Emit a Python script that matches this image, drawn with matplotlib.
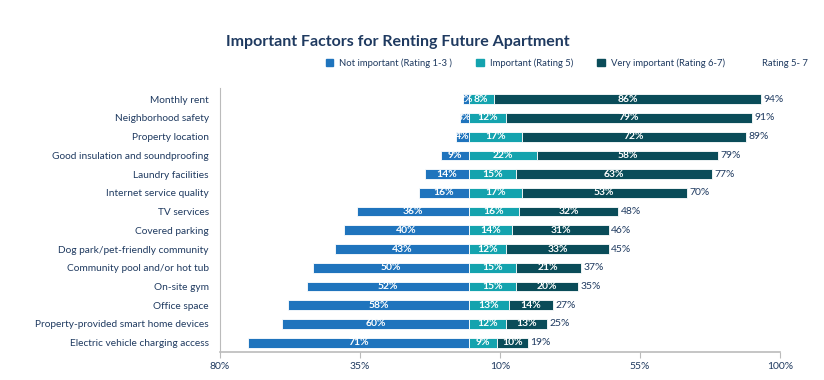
import numpy as np
import matplotlib.pyplot as plt
from matplotlib.patches import Patch

# data
factors = ["Monthly rent", "Neighborhood safety", "Property location",
           "Good insulation and soundproofing", "Laundry facilities",
           "Internet service quality", "TV services", "Covered parking",
           "Dog park/pet-friendly community", "Community pool and/or hot tub",
           "On-site gym", "Office space", "Property-provided smart home devices",
           "Electric vehicle charging access"]
not_imp = [2, 3, 4, 9, 14, 16, 36, 40, 43, 50, 52, 58, 60, 71]
imp = [8, 12, 17, 22, 15, 17, 16, 14, 12, 15, 15, 13, 12, 9]
very_imp = [86, 79, 72, 58, 63, 53, 32, 31, 33, 21, 20, 14, 13, 10]
rating_57 = [94, 91, 89, 79, 77, 70, 48, 46, 45, 37, 35, 27, 25, 19]
xticks = [-80, -35, 10, 55, 100]

c_not = "#1f74bd"
c_imp = "#14a3ae"
c_very = "#0a4c59"
navy = "#1f3a60"

plt.rcParams['font.family'] = ['Lato', 'DejaVu Sans']

fig = plt.figure(figsize=(8.24, 3.8), dpi=100)
ax = fig.add_axes([220/824, 28/380, 560/824, 264/380])

y = np.arange(len(factors))
ni = np.array(not_imp)
im = np.array(imp)
vi = np.array(very_imp)
h = 0.52

ax.barh(y, -ni, height=h, color=c_not, edgecolor="white", linewidth=0.6)
ax.barh(y, im, height=h, color=c_imp, edgecolor="white", linewidth=0.6)
ax.barh(y, vi, left=im, height=h, color=c_very, edgecolor="white", linewidth=0.6)

for i in range(len(factors)):
    ax.text(-ni[i] / 2, y[i], f"{ni[i]}%", ha="center", va="center",
            color="white", fontsize=7.5, fontweight="bold")
    ax.text(im[i] / 2, y[i], f"{im[i]}%", ha="center", va="center",
            color="white", fontsize=7.5, fontweight="bold")
    ax.text(im[i] + vi[i] / 2, y[i], f"{vi[i]}%", ha="center", va="center",
            color="white", fontsize=7.5, fontweight="bold")
    ax.text(im[i] + vi[i] + 0.8, y[i], f"{rating_57[i]}%", ha="left", va="center",
            color=navy, fontsize=7.5)

ax.set_xlim(-80, 100)
ax.set_ylim(13.5, -0.6)
ax.set_yticks(y)
ax.set_yticklabels(factors, fontsize=7.3, color=navy)
ax.set_xticks(xticks)
ax.set_xticklabels([f"{abs(t)}%" for t in xticks], fontsize=7.5, color=navy)
ax.tick_params(axis="y", length=0, pad=8)
ax.tick_params(axis="x", length=4, color="#bbbbbb", pad=3)
for s in ["top", "right"]:
    ax.spines[s].set_visible(False)
ax.spines["left"].set_color("#bbbbbb")
ax.spines["bottom"].set_color("#bbbbbb")
ax.spines["bottom"].set_linewidth(1.2)

fig.text(398/824, 1 - 42/380, "Important Factors for Renting Future Apartment",
         ha="center", va="center", fontsize=11.5, fontweight="bold", color=navy)

handles = [Patch(color=c_not), Patch(color=c_imp), Patch(color=c_very),
           Patch(color="white")]
labels = ["Not important (Rating 1-3 )", "Important (Rating 5)",
          "Very important (Rating 6-7)", "Rating 5- 7"]
fig.legend(handles, labels, loc="center", bbox_to_anchor=(567/824, 1 - 63/380),
           ncol=4, frameon=False, fontsize=6.8, handlelength=0.8, handleheight=0.8,
           handletextpad=0.6, columnspacing=2.6, labelcolor=navy)

fig.savefig("out.png", dpi=100)
